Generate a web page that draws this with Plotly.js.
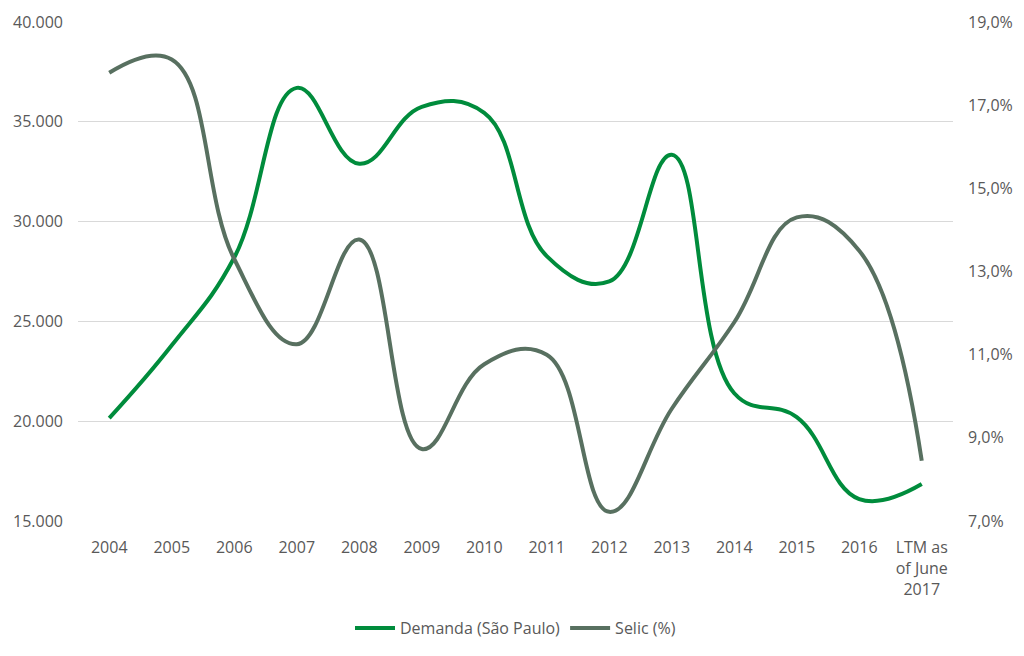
<!DOCTYPE html>
<html>
<head>
<meta charset="utf-8">
<script src="https://cdn.plot.ly/plotly-3.0.1.min.js"></script>
<style>html,body{margin:0;padding:0;background:#fff;}#chart{width:1024px;height:656px;}</style>
</head>
<body>
<div id="chart"></div>
<script>
const categories = ['2004','2005','2006','2007','2008','2009','2010','2011','2012','2013','2014','2015','2016','LTM as<br>of June<br>2017'];
const demanda = [20150, 23800, 28200, 36700, 32900, 35750, 35450, 28270, 27000, 33350, 21400, 20200, 16100, 16850];
const selic = [17.78, 18.1, 13.3, 11.25, 13.77, 8.73, 10.77, 11.0, 7.22, 9.7, 11.78, 14.3, 13.5, 8.45];
const leftTicks = [15000, 20000, 25000, 30000, 35000, 40000];
const rightTicks = [7, 9, 11, 13, 15, 17, 19];
const rightTickText = ['7,0%', '9,0%', '11,0%', '13,0%', '15,0%', '17,0%', '19,0%'];

const tickFont = {family: 'Open Sans, Liberation Sans, sans-serif', size: 16, color: '#595959'};

const traces = [
  {x: categories, y: demanda, name: 'Demanda (São Paulo)', type: 'scatter', mode: 'lines',
   line: {color: '#008C3C', width: 4, shape: 'spline', smoothing: 1.2}, yaxis: 'y', hoverinfo: 'skip'},
  {x: categories, y: selic, name: 'Selic (%)', type: 'scatter', mode: 'lines',
   line: {color: '#587060', width: 4, shape: 'spline', smoothing: 1.2}, yaxis: 'y2', hoverinfo: 'skip'}
];

const layout = {
  width: 1024, height: 656,
  paper_bgcolor: '#ffffff', plot_bgcolor: '#ffffff',
  separators: ',.',
  margin: {l: 78, r: 71, t: 22, b: 134},
  font: tickFont,
  showlegend: true,
  legend: {orientation: 'h', x: 0.5, xanchor: 'center', y: -0.212, yanchor: 'middle',
           font: tickFont, itemwidth: 40, traceorder: 'normal'},
  xaxis: {type: 'category', range: [-0.5, 13.5], showgrid: false, zeroline: false, showline: false,
          ticks: '', tickfont: tickFont, fixedrange: true, tickangle: 0, ticklabelstandoff: 15},
  yaxis: {range: [15000, 40000], tickvals: leftTicks, tickformat: ',.0f', showgrid: true,
          gridcolor: '#D9D9D9', gridwidth: 1, zeroline: false, showline: false, ticks: '',
          tickfont: tickFont, ticklabelstandoff: 14},
  yaxis2: {range: [7, 19], tickvals: rightTicks, ticktext: rightTickText, overlaying: 'y',
           side: 'right', showgrid: false, zeroline: false, showline: false, ticks: '',
           tickfont: tickFont, ticklabelstandoff: 14}
};

Plotly.newPlot('chart', traces, layout, {staticPlot: true, displayModeBar: false});
</script>
</body>
</html>
